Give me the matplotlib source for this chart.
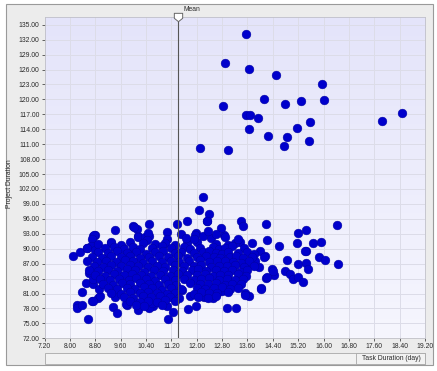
"""Scatter of project duration vs. task duration with a mean marker."""
import matplotlib

matplotlib.use("Agg")
import matplotlib.pyplot as plt
import numpy as np
from matplotlib.patches import Rectangle
from matplotlib.path import Path
from matplotlib.transforms import blended_transform_factory

plt.rcParams["font.family"] = ["Liberation Sans", "DejaVu Sans"]

# --- data ----------------------------------------------------------------
# upper group (project duration > 105)
upper_task = [13.56, 12.88, 13.65, 14.51, 15.95, 14.13, 14.80, 15.30, 16.03,
              12.83, 13.56, 13.68, 13.92, 13.65, 15.56, 15.16, 14.25, 14.86,
              14.75, 15.54, 12.99, 17.83, 18.48, 12.11]
upper_proj = [133.1, 127.3, 126.2, 125.0, 123.1, 120.1, 119.1, 119.7, 119.9,
              118.7, 116.8, 116.8, 116.3, 114.1, 115.5, 114.2, 112.6, 112.4,
              110.7, 111.6, 109.9, 115.7, 117.3, 110.2]

# outer points of the main cloud
fringe_task = [8.11, 8.32, 8.55, 8.74, 8.80, 9.30, 9.42, 10.00, 10.11, 10.48,
               10.14, 10.48, 11.06, 11.06, 11.37, 11.50, 11.69, 11.97, 12.06,
               12.21, 12.34, 12.40, 12.45,
               8.58, 8.22, 8.24, 8.39, 8.37, 8.50, 8.69, 8.88, 8.95, 9.37,
               9.50, 9.79, 10.63, 10.74, 11.09, 11.25, 11.06, 11.72, 11.97,
               12.23, 12.50, 11.53,
               13.39, 13.47, 14.20, 16.43, 15.20, 15.44, 12.85, 14.21, 14.60,
               15.15, 15.68, 15.91, 15.44, 15.86, 16.04, 16.46, 14.85, 15.18,
               15.46, 15.52, 14.78, 14.94, 15.04, 15.20, 15.36, 14.36, 14.44,
               14.20, 14.04, 13.95, 14.15, 13.99, 13.84, 13.73, 13.57, 13.65,
               13.52, 12.97, 13.25, 12.81, 13.36, 12.76, 12.32,
               10.03, 10.16, 10.37, 10.45, 11.95, 10.43, 8.77, 8.71, 9.29,
               8.66, 8.53, 8.79, 9.69, 9.95, 8.61, 8.74, 8.72, 8.93, 8.74,
               9.43, 9.77, 10.48, 10.16, 10.58, 11.79, 12.21, 13.53, 14.03,
               14.21, 14.11, 15.42, 14.40]
fringe_proj = [88.6, 89.4, 90.1, 92.5, 92.8, 91.3, 93.8, 94.6, 94.0, 95.0,
               92.5, 92.5, 93.3, 91.9, 95.0, 93.0, 95.6, 93.2, 97.7,
               100.4, 95.5, 97.0, 92.1,
               75.9, 78.7, 78.1, 78.7, 81.4, 83.2, 79.5, 80.1, 80.4, 78.2,
               77.1, 78.7, 78.4, 79.3, 75.9, 77.2, 78.4, 77.9, 78.4,
               80.2, 80.1, 81.8,
               95.5, 94.6, 95.0, 94.8, 93.2, 93.8, 92.8, 91.8, 90.6,
               91.1, 91.1, 91.4, 89.6, 88.3, 87.8, 86.9, 87.7, 86.9,
               87.1, 86.0, 85.6, 84.9, 84.0, 84.4, 83.3, 85.9, 84.8,
               84.2, 82.1, 86.4, 88.5, 89.5, 87.6, 91.1, 86.3, 80.6,
               81.1, 78.1, 78.1, 81.6, 91.3, 94.2, 95.5,
               94.4, 92.3, 92.3, 93.1, 92.8, 91.8, 92.7, 91.9, 91.1,
               90.6, 90.1, 89.7, 90.1, 89.6, 85.1, 82.9, 79.4, 82.0, 83.9,
               80.2, 78.9, 78.1, 77.6, 79.1, 80.4, 80.4, 80.8, 82.0,
               84.3, 88.4, 89.5, 85.6]

# dense core of the main cloud
core_task = [8.9, 9.6, 9.9, 10.3, 10.7, 11.0, 11.3, 11.7, 12.0, 12.6, 13.0, 13.2,
             9.1, 9.4, 9.7, 10.0, 10.2, 10.6, 10.9, 11.2, 11.6, 11.8, 12.1,
             12.5, 12.7, 12.9, 13.1, 13.5,
             8.9, 9.2, 9.5, 9.8, 10.1, 10.4, 10.7, 10.95, 11.3, 11.5, 11.9,
             12.2, 12.4, 12.6, 12.8, 13.0, 13.3, 13.6, 13.8,
             8.7, 9.0, 9.3, 9.6, 9.9, 10.2, 10.5, 10.8, 11.1, 11.4, 11.7,
             12.0, 12.3, 12.55, 12.75, 13.05, 13.25, 13.45, 13.75,
             8.55, 8.85, 9.15, 9.45, 9.75, 10.0, 10.3, 10.6, 10.9, 11.2,
             11.45, 11.75, 12.1, 12.4, 12.65, 12.9, 13.15, 13.4, 13.65,
             8.75, 9.05, 9.3, 9.6, 9.9, 10.15, 10.45, 10.75, 11.0, 11.3,
             11.6, 11.9, 12.15, 12.45, 12.7, 12.95, 13.2, 13.5, 13.8,
             8.6, 8.9, 9.2, 9.5, 9.8, 10.05, 10.35, 10.65, 10.95, 11.25,
             11.55, 11.85, 12.05, 12.3, 12.6, 12.85, 13.1, 13.35, 13.6,
             8.8, 9.1, 9.4, 9.7, 9.95, 10.25, 10.55, 10.85, 11.15, 11.4,
             11.7, 12.0, 12.25, 12.5, 12.75, 13.0, 13.3, 13.55,
             8.95, 9.25, 9.55, 9.85, 10.1, 10.4, 10.7, 11.0, 11.3, 11.6,
             11.9, 12.15, 12.4, 12.7, 12.95, 13.2, 13.45,
             9.05, 9.35, 9.65, 9.9, 10.2, 10.5, 10.8, 11.1, 11.35, 11.8,
             12.1, 12.35, 12.6, 12.9, 13.1, 13.4,
             9.2, 9.5, 9.8, 10.05, 10.35, 10.6, 10.9, 11.2, 11.5, 12.0,
             12.25, 12.55, 12.8, 13.05, 13.3,
             9.3, 9.6, 9.9, 10.2, 10.45, 10.75, 11.05, 11.3, 11.9, 12.15,
             12.4, 12.65, 13.0,
             9.7, 10.0, 10.3, 10.55, 10.85, 11.15, 11.45, 12.05, 12.35, 12.6,
             9.9, 10.2, 10.45, 10.75, 11.0, 11.3,
             10.1, 10.35, 10.9,
             11.9, 12.2, 12.6, 12.9, 12.35, 11.65, 13.3]
core_proj = [91.0, 90.8, 91.3, 91.1, 90.9, 91.2, 90.7, 91.1, 91.4, 91.0, 90.8, 91.2,
             90.2, 90.4, 90.0, 90.3, 89.9, 90.2, 90.5, 90.1, 90.3, 89.9, 90.2,
             90.4, 90.0, 90.2, 90.5, 90.1,
             89.3, 89.1, 89.5, 89.2, 89.4, 89.0, 89.3, 89.6, 89.2, 89.4,
             89.1, 89.3, 89.5, 89.2, 89.0, 89.4, 89.2, 89.3, 89.0,
             88.4, 88.2, 88.6, 88.3, 88.5, 88.1, 88.4, 88.6, 88.3, 88.5,
             88.2, 88.4, 88.6, 88.3, 88.1, 88.4, 88.5, 88.2, 88.4,
             87.5, 87.3, 87.6, 87.4, 87.7, 87.5, 87.2, 87.5, 87.3, 87.6,
             87.4, 87.5, 87.7, 87.3, 87.5, 87.6, 87.4, 87.2, 87.5,
             86.6, 86.4, 86.7, 86.5, 86.8, 86.6, 86.3, 86.6, 86.4, 86.7,
             86.5, 86.6, 86.8, 86.4, 86.6, 86.5, 86.7, 86.3, 86.6,
             85.7, 85.5, 85.8, 85.6, 85.9, 85.7, 85.4, 85.7, 85.5, 85.8,
             85.6, 85.7, 85.9, 85.5, 85.7, 85.6, 85.8, 85.4, 85.7,
             84.8, 84.6, 84.9, 84.7, 85.0, 84.8, 84.5, 84.8, 84.6, 84.9,
             84.7, 84.8, 85.0, 84.6, 84.8, 84.7, 84.9, 84.6,
             83.9, 83.7, 84.0, 83.8, 84.1, 83.9, 83.6, 83.9, 83.7, 84.0,
             83.8, 83.9, 84.1, 83.7, 83.9, 83.8, 84.0,
             83.0, 82.8, 83.1, 82.9, 83.2, 83.0, 82.7, 83.0, 82.8, 83.1,
             82.9, 83.0, 83.2, 82.8, 83.0, 82.9,
             82.1, 81.9, 82.2, 82.0, 82.3, 82.1, 81.8, 82.1, 81.9, 82.2,
             82.0, 82.1, 82.3, 81.9, 82.1,
             81.2, 81.0, 81.3, 81.1, 81.4, 81.2, 80.9, 81.2, 81.0, 81.3,
             81.1, 81.2, 81.4,
             80.3, 80.1, 80.4, 80.2, 80.5, 80.3, 80.0, 80.3, 80.1, 80.4,
             79.4, 79.2, 79.5, 79.3, 79.6, 79.4,
             78.6, 78.4, 78.7,
             92.0, 92.6, 93.0, 92.4, 93.6, 92.2, 92.0]

MEAN_TASK = 11.40

X_TICKS = [7.20, 8.00, 8.80, 9.60, 10.40, 11.20, 12.00, 12.80, 13.60, 14.40,
           15.20, 16.00, 16.80, 17.60, 18.40, 19.20]
Y_TICKS = [72.0, 75.0, 78.0, 81.0, 84.0, 87.0, 90.0, 93.0, 96.0, 99.0, 102.0,
           105.0, 108.0, 111.0, 114.0, 117.0, 120.0, 123.0, 126.0, 129.0,
           132.0, 135.0]

W, H = 437, 371


def fx(px):
    return px / W


def fy(py):
    return 1 - py / H


fig = plt.figure(figsize=(W / 100, H / 100), dpi=100, facecolor="white")

# outer panel frame (drawn beneath the axes)
fig.patches.append(Rectangle((fx(6), fy(365)), fx(433) - fx(6), fy(4) - fy(365),
                             transform=fig.transFigure, facecolor="#ececec",
                             edgecolor="#9a9a9a", linewidth=0.8, zorder=-5))

ax = fig.add_axes([fx(44.5), fy(338.3), fx(425) - fx(44.5), fy(17.3) - fy(338.3)])
ax.set_zorder(2)
ax.set_xlim(7.2, 19.2)
ax.set_ylim(72.0, 136.5)

# vertical gradient background
grad = np.linspace(0, 1, 256).reshape(-1, 1)
cmap = matplotlib.colors.LinearSegmentedColormap.from_list("bg", ["#f6f6fe", "#e4e4fa"])
ax.imshow(grad, extent=[0, 1, 0, 1], transform=ax.transAxes, cmap=cmap,
          aspect="auto", origin="lower", zorder=0)

ax.set_xticks(X_TICKS)
ax.set_yticks(Y_TICKS)
ax.set_xticklabels([f"{v:.2f}" for v in X_TICKS])
ax.set_yticklabels([f"{v:.2f}" for v in Y_TICKS])
ax.tick_params(labelsize=4.9, length=2, width=0.5, pad=1.5, colors="#2a2a2a")
ax.grid(color="#dcdce8", linewidth=0.7)
ax.set_axisbelow(True)
for sp in ax.spines.values():
    sp.set_color("#c0c0c8")
    sp.set_linewidth(0.6)

all_task = upper_task + fringe_task + core_task
all_proj = upper_proj + fringe_proj + core_proj
ax.scatter(all_task, all_proj, s=40, color="#0000cc", edgecolors="#00009a",
           linewidths=0.3, zorder=3)

# mean line and its marker
ax.axvline(MEAN_TASK, color="#555555", linewidth=0.8, zorder=4)
shield = Path([(-1, 1), (1, 1), (1, -0.2), (0, -1), (-1, -0.2), (-1, 1)],
              [Path.MOVETO, Path.LINETO, Path.LINETO, Path.LINETO, Path.LINETO,
               Path.CLOSEPOLY])
trans = blended_transform_factory(ax.transData, ax.transAxes)
ax.plot([MEAN_TASK], [1.0], transform=trans, marker=shield, markersize=6,
        markerfacecolor="white", markeredgecolor="#666666", markeredgewidth=0.7,
        clip_on=False, zorder=6)
fig.text(fx(183), fy(9.5), "Mean", fontsize=4.9, color="#2a2a2a",
         ha="left", va="center")

# axis titles
fig.text(fx(10), fy(184), "Project Duration", fontsize=4.9, color="#2a2a2a",
         rotation=90, ha="center", va="center")
fig.patches.append(Rectangle((fx(44.5), fy(364)), fx(424.7) - fx(44.5), fy(352.7) - fy(364),
                             transform=fig.transFigure, facecolor="#f2f2f2",
                             edgecolor="#a8a8a8", linewidth=0.6, zorder=1))
fig.patches.append(Rectangle((fx(355.7), fy(364)), fx(424.7) - fx(355.7), fy(352.7) - fy(364),
                             transform=fig.transFigure, facecolor="#f2f2f2",
                             edgecolor="#a8a8a8", linewidth=0.6, zorder=1))
fig.text(fx(420.5), fy(358.3), "Task Duration (day)", fontsize=4.9, color="#2a2a2a",
         ha="right", va="center")

fig.savefig("out.png", dpi=100)
